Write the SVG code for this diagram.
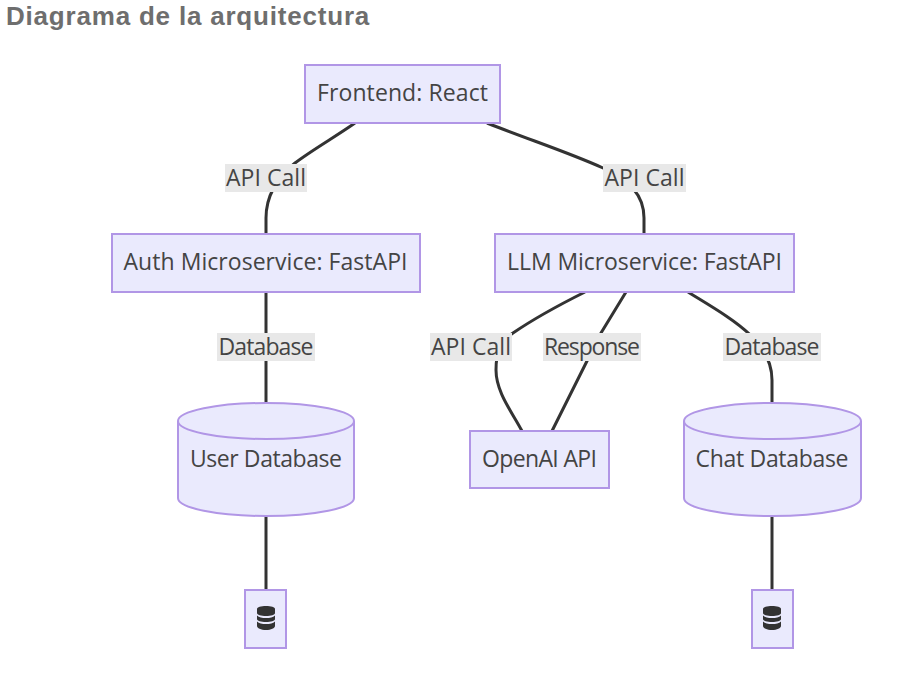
<svg xmlns="http://www.w3.org/2000/svg" width="920" height="678" viewBox="0 0 920 678">
<style>
.n{fill:#EAEAFD;stroke:#B196E6;stroke-width:2}
.t{font-family:"Open Sans","Liberation Sans",sans-serif;font-size:23px;fill:#444;text-anchor:middle}
.e{fill:none;stroke:#333;stroke-width:3}
.lb{fill:#e8e8e8}
.i{fill:#333}
</style>
<rect width="920" height="678" fill="#fff"/>
<text x="6" y="25" font-family="Liberation Sans,sans-serif" font-size="26" letter-spacing="0.8" font-weight="700" fill="#6e6e6e">Diagrama de la arquitectura</text>
<g id="connectors">
<path class="e" d="M355 123C335 137 312 150 295 163C278 177 266 195 266 218V234"/>
<path class="e" d="M487 123C530 140 570 153 603 168C630 181 644 195 644 218V234"/>
<path class="e" d="M266 292V403"/>
<path class="e" d="M585 292C555 307 532 320 513 333C500 342 496 352 496 370C496 392 512 412 522 431"/>
<path class="e" d="M626 292L601 333L587 361L552 431"/>
<path class="e" d="M688 292C730 318 772 340 772 380V404"/>
<path class="e" d="M266 516V590"/>
<path class="e" d="M772 516V590"/>
<g id="edge-labels">
<rect class="lb" x="225" y="164" width="82" height="28"/><text class="t" x="266" y="186" textLength="80">API Call</text>
<rect class="lb" x="603" y="164" width="83" height="28"/><text class="t" x="644.500" y="186" textLength="80">API Call</text>
<rect class="lb" x="217" y="333" width="98" height="28"/><text class="t" x="266" y="355" textLength="95">Database</text>
<rect class="lb" x="430" y="333" width="82" height="28"/><text class="t" x="471" y="355" textLength="80">API Call</text>
<rect class="lb" x="543" y="333" width="98" height="28"/><text class="t" x="592" y="355" textLength="96">Response</text>
<rect class="lb" x="723" y="333" width="98" height="28"/><text class="t" x="772" y="355" textLength="95">Database</text>
</g>
</g>
<g id="frontend"><rect class="n" x="305" y="65" width="195" height="58"/><text class="t" x="402.500" y="101" textLength="171">Frontend: React</text></g>
<g id="auth"><rect class="n" x="112" y="234" width="308" height="58"/><text class="t" x="265.500" y="270" textLength="284">Auth Microservice: FastAPI</text></g>
<g id="llm"><rect class="n" x="495" y="234" width="299" height="58"/><text class="t" x="644.500" y="270" textLength="275">LLM Microservice: FastAPI</text></g>
<g id="userdb"><path class="n" d="M178 421A88 18 0 0 1 354 421V498A88 18 0 0 1 178 498Z"/><path class="n" style="fill:none" d="M178 421A88 18 0 0 0 354 421"/><text class="t" x="266" y="467" textLength="152">User Database</text></g>
<g id="openai"><rect class="n" x="470" y="431" width="139" height="57"/><text class="t" x="539.500" y="467" textLength="115">OpenAI API</text></g>
<g id="chatdb"><path class="n" d="M684 421A88 18 0 0 1 861 421V498A88 18 0 0 1 684 498Z"/><path class="n" style="fill:none" d="M684 421A88 18 0 0 0 861 421"/><text class="t" x="772" y="467" textLength="153">Chat Database</text></g>
<g id="icon1"><rect class="n" x="245" y="590" width="41" height="58"/>
<path class="i" d="M257 609C257 607 261 606 266 606S275 607 275 609V613C275 615 271 616 266 616S257 615 257 613Z"/><path class="i" d="M257 615.500C259 617.500 262 618 266 618S273 617.500 275 615.500V619C275 621 271 622 266 622S257 621 257 619Z"/><path class="i" d="M257 621.500C259 623.500 262 624 266 624S273 623.500 275 621.500V626C275 628 271 630 266 630S257 628 257 626Z"/></g>
<g id="icon2"><rect class="n" x="752" y="590" width="41" height="58"/>
<path class="i" d="M763 609C763 607 767 606 772 606S781 607 781 609V613C781 615 777 616 772 616S763 615 763 613Z"/><path class="i" d="M763 615.500C765 617.500 768 618 772 618S779 617.500 781 615.500V619C781 621 777 622 772 622S763 621 763 619Z"/><path class="i" d="M763 621.500C765 623.500 768 624 772 624S779 623.500 781 621.500V626C781 628 777 630 772 630S763 628 763 626Z"/></g>
</svg>
